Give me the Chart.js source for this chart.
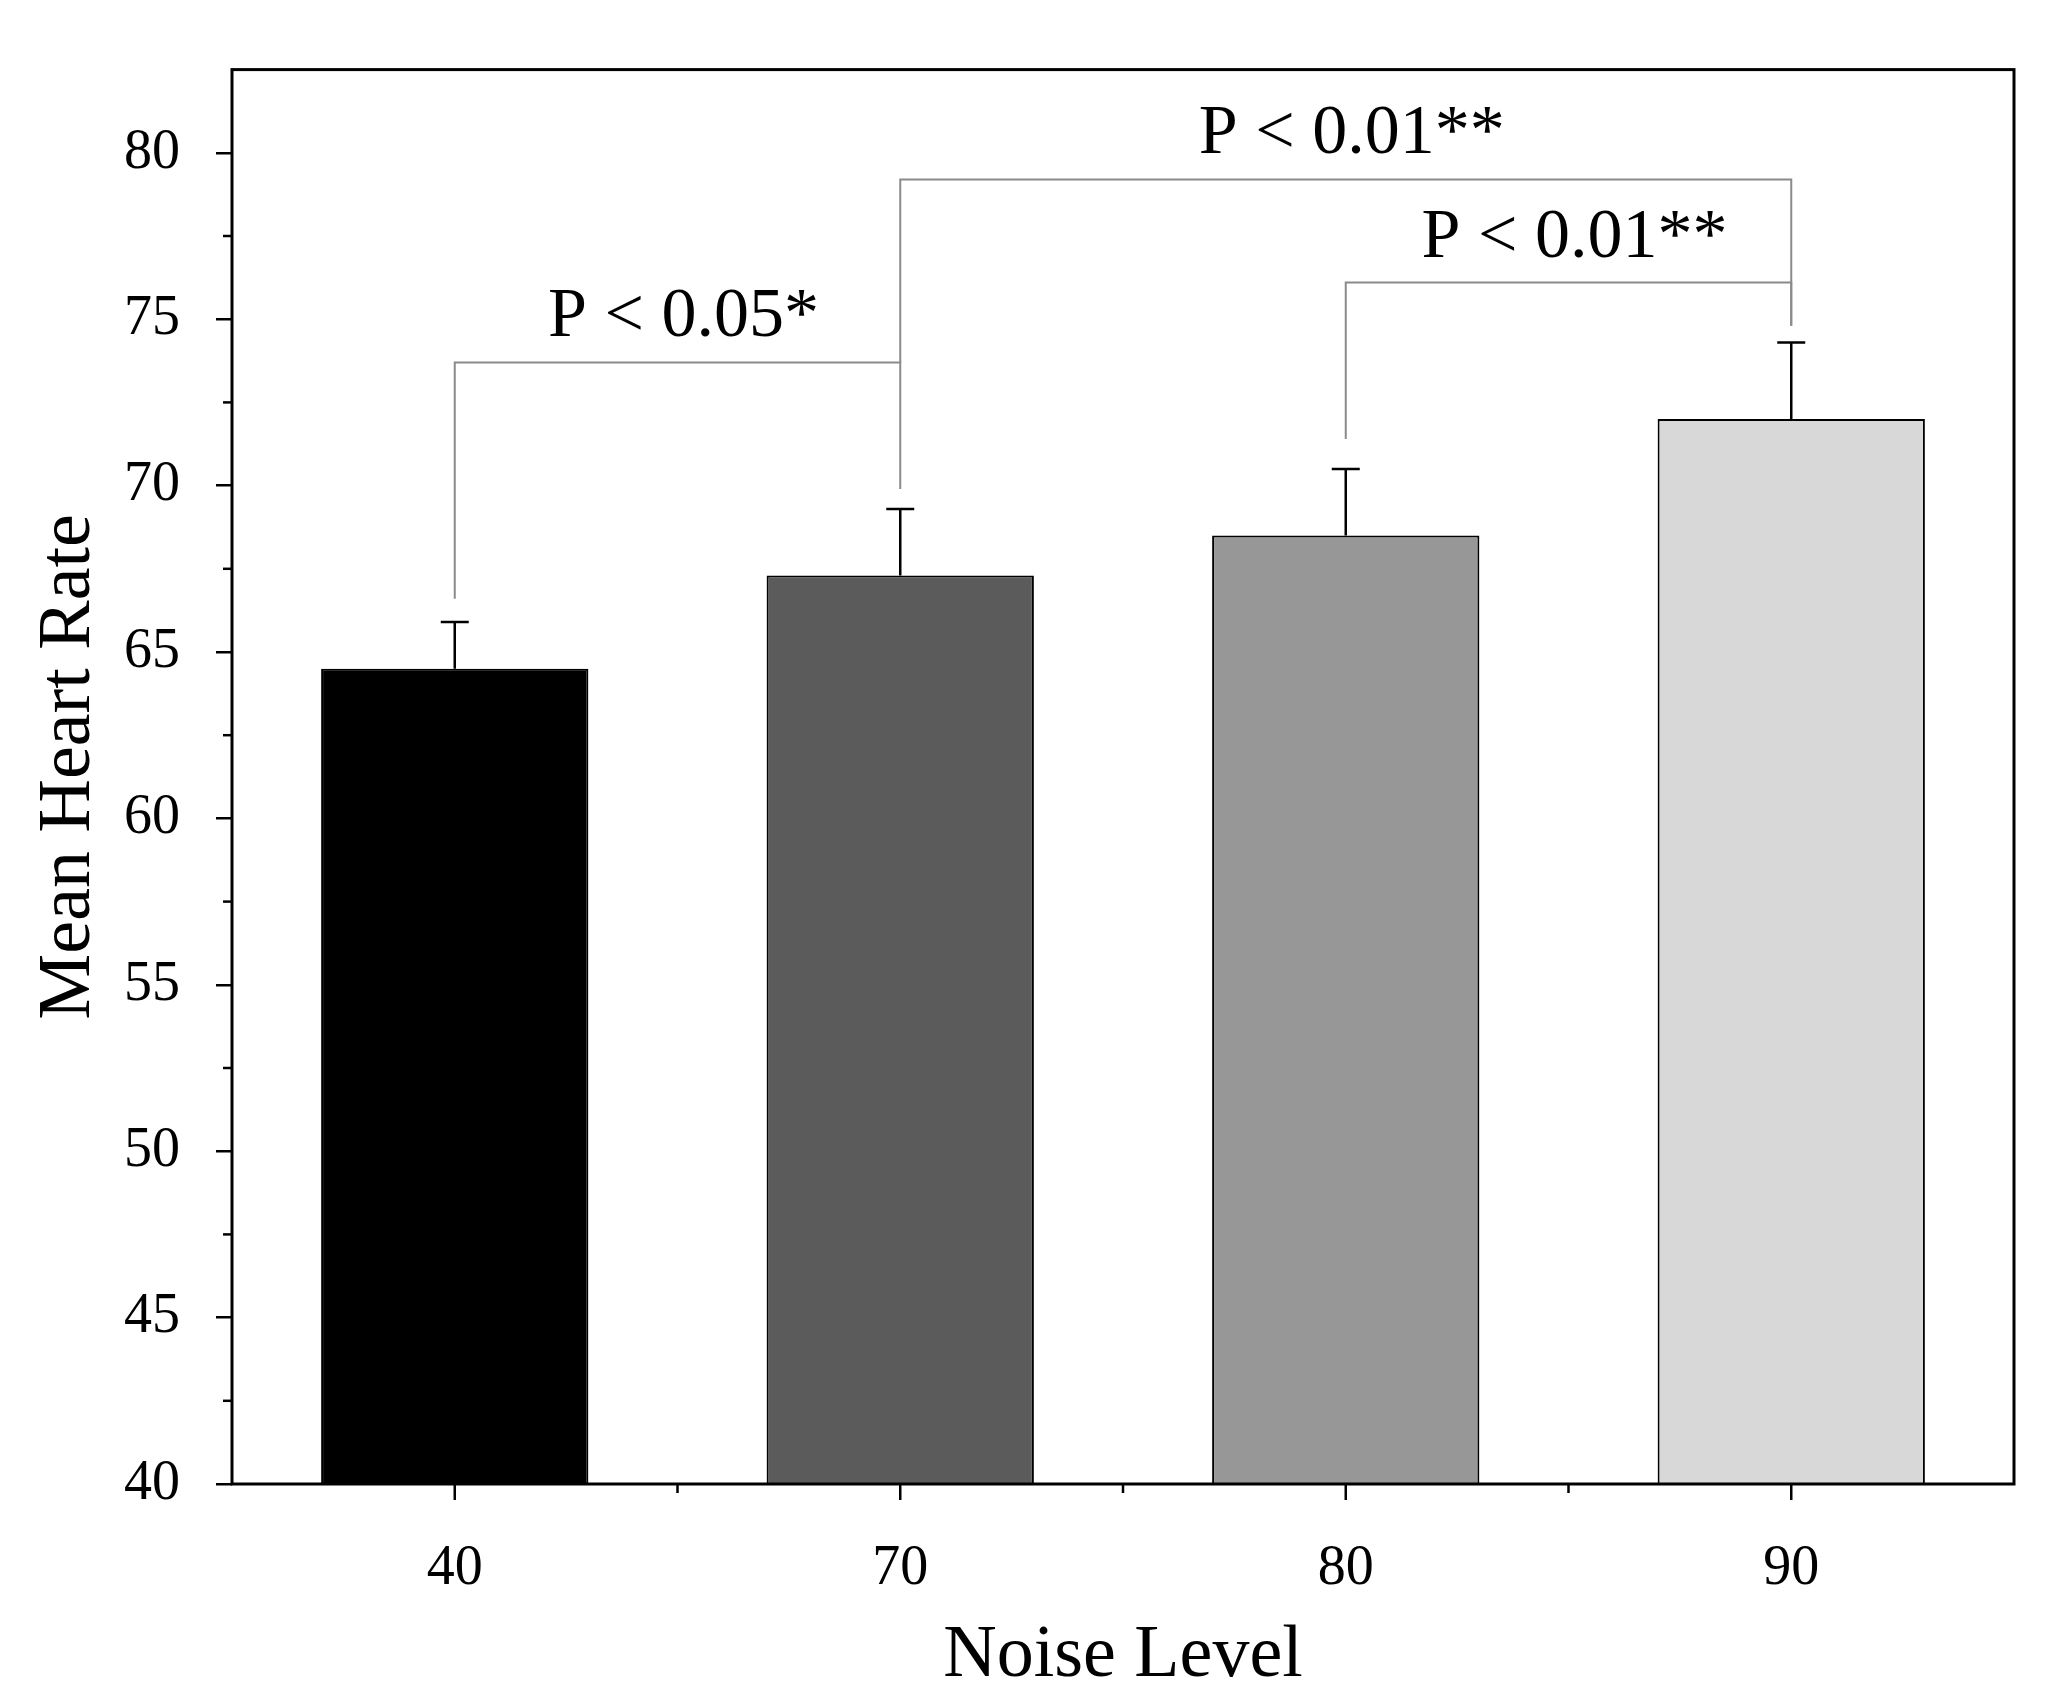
<!DOCTYPE html>
<html>
<head>
<meta charset="utf-8">
<script src="https://cdn.jsdelivr.net/npm/chart.js@4"></script>
<style>
  html, body { margin: 0; padding: 0; background: #fff; }
  #wrap { width: 2048px; height: 1702px; }
</style>
</head>
<body>
<div id="wrap"><canvas id="c" width="2048" height="1702"></canvas></div>
<script>
// data
const noiseLevels = ['40', '70', '80', '90'];
const meanHR = [64.5, 67.3, 68.5, 72.0];
const errUp = [1.4, 2.0, 2.0, 2.3];
const barColors = ['#000000', '#5b5b5b', '#979797', '#d8d8d8'];
const yTicks = [40, 45, 50, 55, 60, 65, 70, 75, 80];

// significance brackets: [from idx, to idx, bar y, left leg bottom, right leg bottom, label]
const brackets = [
  [0, 1, 73.7, 66.6, 69.9, 'P < 0.05*'],
  [1, 3, 79.2, 73.7, 74.8, 'P < 0.01**'],
  [2, 3, 76.1, 71.4, 74.8, 'P < 0.01**']
];

const serif = '"Liberation Serif", "DejaVu Serif", serif';

const extras = {
  id: 'extras',
  afterDatasetsDraw(chart) {
    const ctx = chart.ctx, x = chart.scales.x, y = chart.scales.y;
    const a = chart.chartArea;
    ctx.save();
    // error bars (upper only)
    ctx.strokeStyle = '#000';
    ctx.lineWidth = 2.5;
    meanHR.forEach((v, i) => {
      const cx = x.getPixelForValue(i);
      ctx.beginPath();
      ctx.moveTo(cx, y.getPixelForValue(v));
      ctx.lineTo(cx, y.getPixelForValue(v + errUp[i]));
      ctx.moveTo(cx - 14, y.getPixelForValue(v + errUp[i]));
      ctx.lineTo(cx + 14, y.getPixelForValue(v + errUp[i]));
      ctx.stroke();
    });
    // brackets
    ctx.strokeStyle = '#8a8a8a';
    ctx.lineWidth = 2;
    ctx.fillStyle = '#000';
    ctx.font = '70px ' + serif;
    ctx.textAlign = 'center';
    ctx.textBaseline = 'alphabetic';
    brackets.forEach(b => {
      const x1 = x.getPixelForValue(b[0]), x2 = x.getPixelForValue(b[1]);
      const yb = y.getPixelForValue(b[2]);
      ctx.beginPath();
      ctx.moveTo(x1, y.getPixelForValue(b[3]));
      ctx.lineTo(x1, yb);
      ctx.lineTo(x2, yb);
      ctx.lineTo(x2, y.getPixelForValue(b[4]));
      ctx.stroke();
      ctx.fillText(b[5], (x1 + x2) / 2 + 6, yb - 26);
    });
    // frame
    ctx.strokeStyle = '#000';
    ctx.lineWidth = 3;
    ctx.strokeRect(a.left, a.top, a.right - a.left, a.bottom - a.top);
    // minor y ticks
    ctx.lineWidth = 2.5;
    for (let v = 42.5; v < 82.5; v += 5) {
      const py = y.getPixelForValue(v);
      ctx.beginPath(); ctx.moveTo(a.left, py); ctx.lineTo(a.left - 9, py); ctx.stroke();
    }
    // x ticks at category centres and between
    for (let i = 0; i < noiseLevels.length; i++) {
      const px = x.getPixelForValue(i);
      ctx.beginPath(); ctx.moveTo(px, a.bottom); ctx.lineTo(px, a.bottom + 16); ctx.stroke();
      if (i > 0) {
        const mx = (px + x.getPixelForValue(i - 1)) / 2;
        ctx.beginPath(); ctx.moveTo(mx, a.bottom); ctx.lineTo(mx, a.bottom + 9); ctx.stroke();
      }
    }
    // axis titles
    ctx.font = '74px ' + serif;
    ctx.textBaseline = 'middle';
    ctx.fillText('Noise Level', (a.left + a.right) / 2, 1657);
    ctx.translate(70, (a.top + a.bottom) / 2 - 10);
    ctx.rotate(-Math.PI / 2);
    ctx.fillText('Mean Heart Rate', 0, 0);
    ctx.restore();
  }
};

new Chart(document.getElementById('c'), {
  type: 'bar',
  data: {
    labels: noiseLevels,
    datasets: [{
      data: meanHR,
      backgroundColor: barColors,
      borderColor: '#000',
      borderWidth: 2,
      borderSkipped: false,
      barPercentage: 0.6,
      categoryPercentage: 1.0
    }]
  },
  options: {
    responsive: false,
    animation: false,
    layout: { padding: { top: 4, right: 34, left: 0, bottom: 0 } },
    plugins: { legend: { display: false }, tooltip: { enabled: false } },
    scales: {
      x: {
        grid: { display: false },
        border: { display: false },
        ticks: { color: '#000', font: { family: serif, size: 56 }, padding: 44 },
        afterFit(s) { s.height = 218; }
      },
      y: {
        min: 40,
        max: 82.5,
        afterBuildTicks(s) { s.ticks = yTicks.map(v => ({ value: v })); },
        grid: { drawOnChartArea: false, tickLength: 16, color: '#000', lineWidth: 2.5 },
        border: { display: false },
        ticks: { color: '#000', font: { family: serif, size: 56 }, padding: 36 },
        afterFit(s) { s.width = 232; }
      }
    }
  },
  plugins: [extras]
});
</script>
</body>
</html>
